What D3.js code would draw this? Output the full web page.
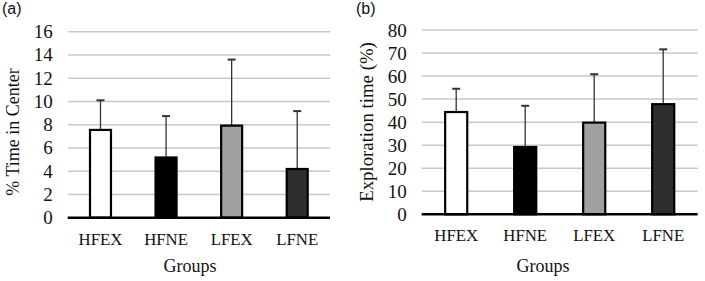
<!DOCTYPE html>
<html>
<head>
<meta charset="utf-8">
<script src="https://cdnjs.cloudflare.com/ajax/libs/d3/7.8.5/d3.min.js"></script>
<style>
  body { margin: 0; background: #fff; }
  svg { display: block; }
</style>
</head>
<body>
<div id="chart"></div>
<script>
var groups = ["HFEX", "HFNE", "LFEX", "LFNE"];
var fills = ["#ffffff", "#000000", "#a0a0a0", "#2e2e2e"];

// panel (a): % time in center
var centerMean = [7.55, 5.18, 7.92, 4.19];
var centerErr = [10.1, 8.74, 13.6, 9.17];
var centerTicks = [0, 2, 4, 6, 8, 10, 12, 14, 16];

// panel (b): exploration time
var exploreMean = [44.4, 29.2, 39.8, 47.8];
var exploreErr = [54.5, 47.1, 60.8, 71.6];
var exploreTicks = [0, 10, 20, 30, 40, 50, 60, 70, 80];

var serif = "'Liberation Serif', 'Times New Roman', serif";

var svg = d3.select("#chart")
    .append("svg")
    .attr("width", 705)
    .attr("height", 281);

function drawPanel(opt) {
    var g = svg.append("g");

    var x = d3.scaleBand()
        .domain(groups)
        .range([opt.left, opt.right])
        .paddingInner(0.68)
        .paddingOuter(0.34);

    var y = d3.scaleLinear()
        .domain([0, opt.max])
        .range([opt.bottom, opt.top]);

    // gridlines
    g.selectAll(".grid")
        .data(opt.ticks.filter(function (d) { return d > 0; }))
        .enter().append("line")
        .attr("x1", opt.left)
        .attr("x2", opt.right)
        .attr("y1", function (d) { return y(d); })
        .attr("y2", function (d) { return y(d); })
        .attr("stroke", "#c8c8c8")
        .attr("stroke-width", 1.5);

    // tick labels
    g.selectAll(".tick-label")
        .data(opt.ticks)
        .enter().append("text")
        .attr("x", opt.left - 15)
        .attr("y", function (d) { return y(d) + 6.5; })
        .attr("text-anchor", "end")
        .style("font-family", serif)
        .style("font-size", "19px")
        .attr("fill", "#111")
        .text(function (d) { return d; });

    var vals = opt.mean.map(function (m, i) {
        return { group: groups[i], mean: m, err: opt.err[i], fill: fills[i] };
    });

    // error bars (upper only)
    g.selectAll(".err")
        .data(vals)
        .enter().append("line")
        .attr("x1", function (d) { return x(d.group) + x.bandwidth() / 2; })
        .attr("x2", function (d) { return x(d.group) + x.bandwidth() / 2; })
        .attr("y1", function (d) { return y(d.mean); })
        .attr("y2", function (d) { return y(d.err); })
        .attr("stroke", "#333")
        .attr("stroke-width", 1.3);

    g.selectAll(".cap")
        .data(vals)
        .enter().append("line")
        .attr("x1", function (d) { return x(d.group) + x.bandwidth() / 2 - 4; })
        .attr("x2", function (d) { return x(d.group) + x.bandwidth() / 2 + 4; })
        .attr("y1", function (d) { return y(d.err); })
        .attr("y2", function (d) { return y(d.err); })
        .attr("stroke", "#333")
        .attr("stroke-width", 2);

    // bars
    g.selectAll(".bar")
        .data(vals)
        .enter().append("rect")
        .attr("x", function (d) { return x(d.group); })
        .attr("y", function (d) { return y(d.mean); })
        .attr("width", x.bandwidth())
        .attr("height", function (d) { return y(0) - y(d.mean); })
        .attr("fill", function (d) { return d.fill; })
        .attr("stroke", "#000")
        .attr("stroke-width", 2.2);

    // baseline
    g.append("line")
        .attr("x1", opt.left)
        .attr("x2", opt.right)
        .attr("y1", y(0))
        .attr("y2", y(0))
        .attr("stroke", "#000")
        .attr("stroke-width", 2.4);

    // category labels
    g.selectAll(".cat")
        .data(groups)
        .enter().append("text")
        .attr("x", function (d) { return x(d) + x.bandwidth() / 2; })
        .attr("y", opt.catY)
        .attr("text-anchor", "middle")
        .style("font-family", serif)
        .style("font-size", "16.8px")
        .attr("fill", "#111")
        .text(function (d) { return d; });

    g.append("text")
        .attr("x", opt.groupsX)
        .attr("y", 272)
        .attr("text-anchor", "middle")
        .style("font-family", serif)
        .style("font-size", "18px")
        .attr("fill", "#111")
        .text("Groups");

    g.append("text")
        .attr("transform", "translate(" + opt.titleX + "," + opt.titleY + ") rotate(-90)")
        .attr("text-anchor", "middle")
        .style("font-family", serif)
        .style("font-size", opt.titleSize)
        .attr("fill", "#111")
        .text(opt.title);

    g.append("text")
        .attr("x", opt.labelX)
        .attr("y", 14)
        .style("font-family", "'Liberation Sans', Arial, sans-serif")
        .style("font-size", "16px")
        .attr("fill", "#111")
        .text(opt.label);
}

drawPanel({
    left: 67.7, right: 330, top: 31.7, bottom: 217.7, max: 16,
    ticks: centerTicks, mean: centerMean, err: centerErr,
    catY: 245, groupsX: 190, titleX: 19, titleY: 132, titleSize: "18px",
    title: "% Time in Center", label: "(a)", labelX: 2
});

drawPanel({
    left: 421.7, right: 697.7, top: 30, bottom: 214.3, max: 80,
    ticks: exploreTicks, mean: exploreMean, err: exploreErr,
    catY: 241, groupsX: 543, titleX: 373, titleY: 122, titleSize: "18.8px",
    title: "Exploration time (%)", label: "(b)", labelX: 356
});
</script>
</body>
</html>
